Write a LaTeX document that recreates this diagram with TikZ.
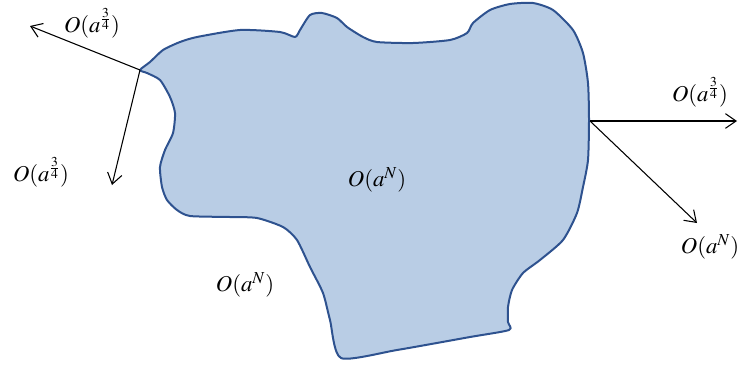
\documentclass[tikz,border=0pt]{standalone}
\usepackage{amsmath}
\usepackage{mathptmx}
\usetikzlibrary{arrows.meta}
\definecolor{regionfill}{HTML}{B9CDE5}
\definecolor{regionline}{HTML}{2E528F}
\tikzset{
    >={Straight Barb[length=8pt,width=11pt]},
    region/.style={
        draw=regionline,
        fill=regionfill,
        line width=1.5pt,
        line join=round
    },
    ray/.style={->, line width=0.8pt},
    est/.style={font=\fontsize{17}{20}\selectfont, inner sep=1pt}
}
\begin{document}
\begin{tikzpicture}[x=0.75pt, y=-0.75pt]
\useasboundingbox (0,0) rectangle (738,365);

% the region
\draw[region] plot[smooth cycle, tension=0.4] coordinates {
    (140,70) (150,62) (163,50) (180,42) (197,37) (240,30) (280,32)
    (295,37) (300,30) (310,15) (322,13) (337,18) (347,27) (363,37)
    (377,42) (413,43) (450,40) (467,33) (473,23) (490,10) (510,4)
    (533,3) (553,10) (573,30) (583,53) (588,83) (589,120) (588,160)
    (583,187) (577,213) (563,240) (540,260) (523,273) (512,290)
    (508,307) (508,322) (509,330) (470,337) (397,350) (341,358)
    (330,320) (323,293) (310,267) (297,240) (283,227) (257,218)
    (230,217) (190,216) (177,210) (167,200) (162,187) (160,167)
    (165,150) (173,133) (175,113) (170,97) (160,80) (147,73)
};

\coordinate (lt) at (140,70);
\coordinate (rt) at (590,121);
\coordinate (ltup) at (30,26);
\coordinate (ltdown) at (112,185);
\coordinate (rtright) at (737,121);
\coordinate (rtdown) at (697,223);

\node[est] (lup) at (92,23) {$O(a^{\frac{3}{4}})$};
\node[est] (ldown) at (41,172) {$O(a^{\frac{3}{4}})$};
\node[est] (rup) at (700,92) {$O(a^{\frac{3}{4}})$};
\node[est] (rdown) at (710,247) {$O(a^N)$};
\node[est] (mid) at (377,180) {$O(a^N)$};
\node[est] (outside) at (245,285) {$O(a^N)$};

\draw[ray] (lt) -- (ltup);
\draw[ray] (lt) -- (ltdown);
\draw[ray] (rt) -- (rtright);
\draw[ray] (rt) -- (rtdown);

\end{tikzpicture}
\end{document}
